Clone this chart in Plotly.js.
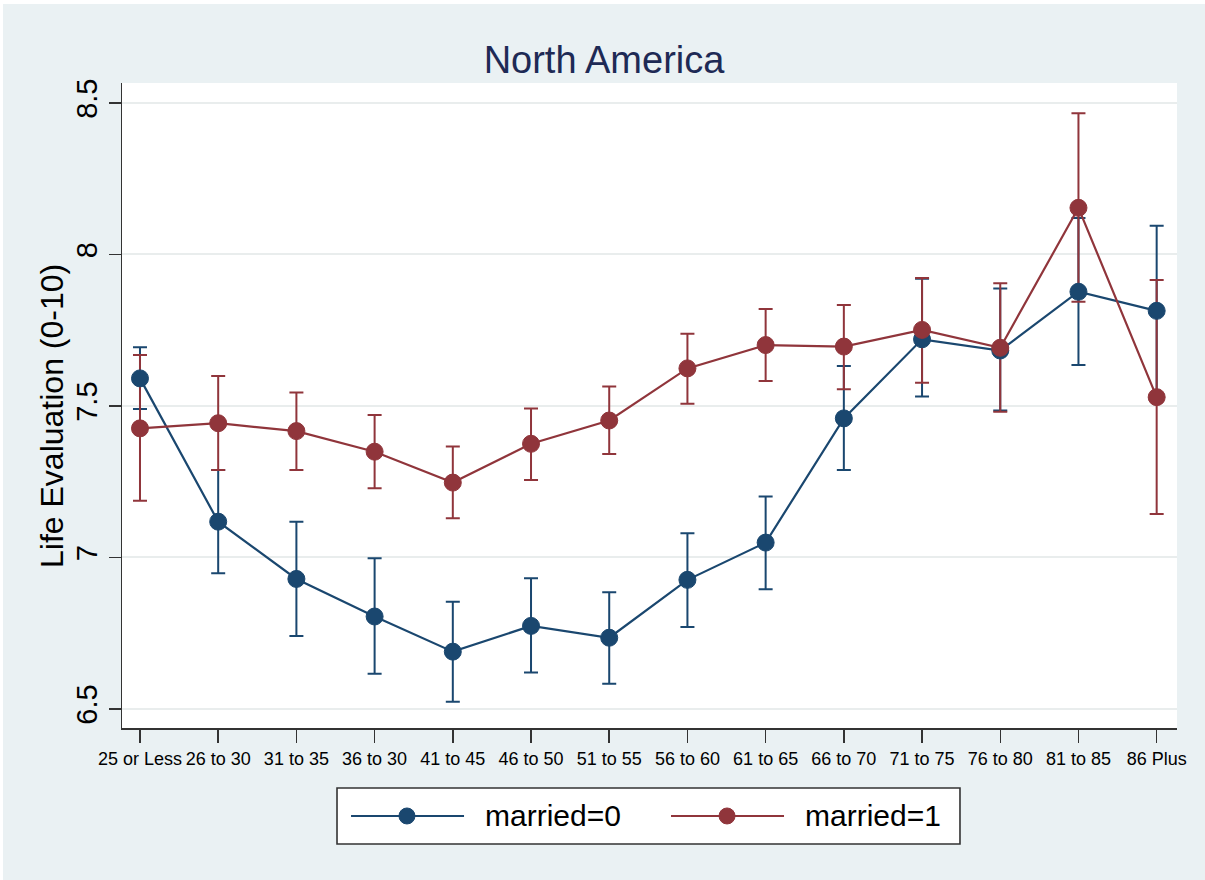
<!DOCTYPE html>
<html>
<head>
<meta charset="utf-8">
<script src="https://cdn.plot.ly/plotly-3.0.1.min.js"></script>
<style>
  html, body { margin: 0; padding: 0; background: #ffffff; }
  #chart { position: absolute; left: 3px; top: 4px; width: 1202px; height: 876px; }
</style>
</head>
<body>
<div id="chart"></div>
<script>
// Age groups on the x axis
const ageGroups = ['25 or Less', '26 to 30', '31 to 35', '36 to 30', '41 to 45', '46 to 50', '51 to 55',
                   '56 to 60', '61 to 65', '66 to 70', '71 to 75', '76 to 80', '81 to 85', '86 Plus'];

// married=0: mean life evaluation with upper / lower confidence bounds
const unmarriedMean  = [7.591, 7.118, 6.929, 6.805, 6.689, 6.774, 6.735, 6.926, 7.049, 7.459, 7.720, 7.683, 7.877, 7.814];
const unmarriedUpper = [7.694, 7.289, 7.118, 6.997, 6.854, 6.931, 6.885, 7.080, 7.201, 7.632, 7.920, 7.888, 8.120, 8.095];
const unmarriedLower = [7.490, 6.948, 6.741, 6.616, 6.524, 6.620, 6.583, 6.770, 6.895, 7.289, 7.531, 7.485, 7.635, 7.533];

// married=1
const marriedMean  = [7.426, 7.443, 7.417, 7.349, 7.247, 7.375, 7.452, 7.624, 7.701, 7.696, 7.751, 7.692, 8.154, 7.529];
const marriedUpper = [7.668, 7.599, 7.544, 7.470, 7.366, 7.492, 7.564, 7.738, 7.820, 7.833, 7.922, 7.905, 8.466, 7.916];
const marriedLower = [7.187, 7.289, 7.289, 7.228, 7.129, 7.256, 7.341, 7.507, 7.582, 7.555, 7.577, 7.481, 7.844, 7.143];

const yTicks = [6.5, 7, 7.5, 8, 8.5];
const yTickText = ['6.5', '7', '7.5', '8', '8.5'];

const seriesNames = ['married=0', 'married=1'];
const NAVY = '#1a476f';
const MAROON = '#90353b';
const FONT = 'Liberation Sans, Arial, Helvetica, sans-serif';

function diff(a, b) { return a.map((v, i) => +(v - b[i]).toFixed(4)); }

// Confidence-interval caps, drawn underneath both connected lines
function capsTrace(mean, upper, lower, color, name) {
  return {
    type: 'scatter', mode: 'markers', x: ageGroups, y: mean, name: name,
    showlegend: false, hoverinfo: 'skip',
    marker: { size: 1, opacity: 0, color: color },
    error_y: {
      type: 'data', symmetric: false,
      array: diff(upper, mean), arrayminus: diff(mean, lower),
      color: color, thickness: 2, width: 7
    }
  };
}

function lineTrace(mean, color, name) {
  return {
    type: 'scatter', mode: 'lines+markers', x: ageGroups, y: mean, name: name,
    showlegend: false,
    line: { color: color, width: 2.2 },
    marker: { color: color, size: 17, line: { color: color, width: 1 } }
  };
}

const traces = [
  capsTrace(unmarriedMean, unmarriedUpper, unmarriedLower, NAVY, seriesNames[0]),
  capsTrace(marriedMean, marriedUpper, marriedLower, MAROON, seriesNames[1]),
  lineTrace(unmarriedMean, NAVY, seriesNames[0]),
  lineTrace(marriedMean, MAROON, seriesNames[1])
];

// Legend box below the plot, built from paper-positioned shapes and labels
const legendY = -0.1364;
const legendItems = [
  { name: seriesNames[0], color: NAVY,   x0: 0.2171, x1: 0.3242, xm: 0.2701, xt: 0.3422 },
  { name: seriesNames[1], color: MAROON, x0: 0.5204, x1: 0.6275, xm: 0.5735, xt: 0.6455 }
];

const shapes = [{
  type: 'rect', xref: 'paper', yref: 'paper',
  x0: 0.2038, x1: 0.7943, y0: -0.1798, y1: -0.0930,
  fillcolor: '#ffffff', line: { color: '#333333', width: 1.6 }, layer: 'above'
}];
const annotations = [];
legendItems.forEach(it => {
  shapes.push({
    type: 'line', xref: 'paper', yref: 'paper',
    x0: it.x0, x1: it.x1, y0: legendY, y1: legendY,
    line: { color: it.color, width: 2.2 }, layer: 'above'
  });
  shapes.push({
    type: 'circle', xref: 'paper', yref: 'paper',
    xsizemode: 'pixel', ysizemode: 'pixel', xanchor: it.xm, yanchor: legendY,
    x0: -8, x1: 8, y0: -8, y1: 8,
    fillcolor: it.color, line: { color: it.color, width: 1 }, layer: 'above'
  });
  annotations.push({
    xref: 'paper', yref: 'paper', x: it.xt, y: legendY,
    xanchor: 'left', yanchor: 'middle', showarrow: false,
    text: it.name, font: { family: FONT, size: 30, color: '#000000' }
  });
});

// Vertical axis title, placed beside the tick labels
annotations.push({
  xref: 'paper', yref: 'paper', x: -0.0664, y: 0.4837,
  xanchor: 'center', yanchor: 'middle', showarrow: false, textangle: -90,
  text: 'Life Evaluation (0-10)', font: { family: FONT, size: 32, color: '#000000' }
});

const layout = {
  width: 1202, height: 876,
  paper_bgcolor: '#eaf1f3',
  plot_bgcolor: '#ffffff',
  margin: { l: 119, r: 28, t: 79, b: 152, pad: 0 },
  font: { family: FONT, color: '#000000' },
  showlegend: false,
  title: {
    text: 'North America',
    x: 0.5, xanchor: 'center', y: 0.936, yanchor: 'middle',
    font: { family: FONT, size: 38, color: '#1e2a55' }
  },
  xaxis: {
    type: 'category',
    range: [-0.23, 13.26],
    showgrid: false, zeroline: false,
    showline: true, linecolor: '#333333', linewidth: 2,
    ticks: 'outside', ticklen: 13, tickwidth: 1.5, tickcolor: '#333333',
    tickfont: { family: FONT, size: 18, color: '#000000' },
    tickangle: 0, fixedrange: true
  },
  yaxis: {
    range: [6.437, 8.566],
    tickmode: 'array', tickvals: yTicks, ticktext: yTickText,
    tickangle: -90,
    showgrid: true, gridcolor: '#e9eded', gridwidth: 2,
    zeroline: false,
    showline: true, linecolor: '#333333', linewidth: 1.5,
    ticks: 'outside', ticklen: 12, tickwidth: 1.5, tickcolor: '#333333',
    tickfont: { family: FONT, size: 29, color: '#000000' },
    automargin: false
  },
  shapes: shapes,
  annotations: annotations
};

Plotly.newPlot('chart', traces, layout, { displayModeBar: false, staticPlot: true });
</script>
</body>
</html>
